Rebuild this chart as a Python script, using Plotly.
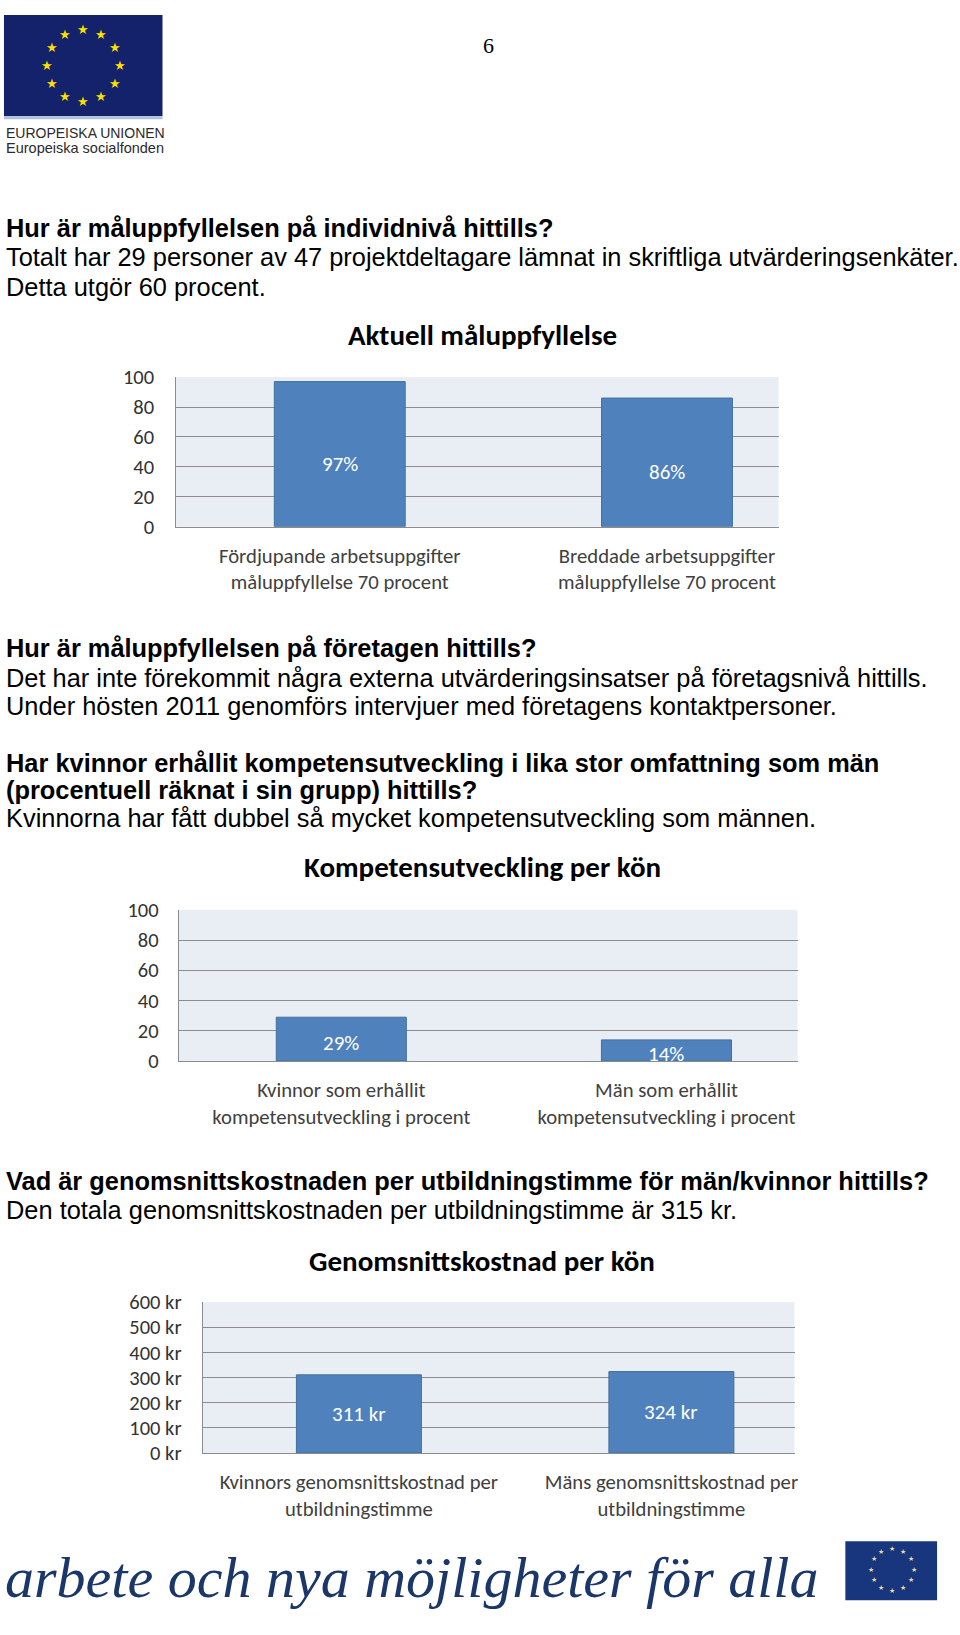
import math
import plotly.graph_objects as go

W, H = 960, 1635

# ---------------- data ----------------
cat1 = ["Fördjupande arbetsuppgifter<br>måluppfyllelse 70 procent",
        "Breddade arbetsuppgifter<br>måluppfyllelse 70 procent"]
val1 = [97, 86]
lab1 = ["97%", "86%"]

cat2 = ["Kvinnor som erhållit<br>kompetensutveckling i procent",
        "Män som erhållit<br>kompetensutveckling i procent"]
val2 = [29, 14]
lab2 = ["29%", "14%"]

cat3 = ["Kvinnors genomsnittskostnad per<br>utbildningstimme",
        "Mäns genomsnittskostnad per<br>utbildningstimme"]
val3 = [311, 324]
lab3 = ["311 kr", "324 kr"]

titles = ["Aktuell måluppfyllelse", "Kompetensutveckling per kön", "Genomsnittskostnad per kön"]

# ---------------- helpers ----------------
def fx(x):
    return x / W

def fy(y):
    return 1 - y / H

BAR = "#4F81BD"
BAR_LINE = "#41719C"
GRID = "#8C8C8C"
PLOT_BG = "#E9EDF4"
CAL = "Carlito, Lato, sans-serif"
ARIAL = "Liberation Sans, Arial, sans-serif"

fig = go.Figure()

charts = [
    # (cats, vals, labels, xaxis, yaxis, x-domain px, y-domain px, xrange end, ymax, dtick, suffix, label shift, ytick standoff)
    (cat1, val1, lab1, "x", "y", (176.7, 781), (370, 522), 1.341, 100, 20, "", -10, 17),
    (cat2, val2, lab2, "x2", "y2", (179.3, 800), (911.3, 1065), 1.403, 100, 20, "", -4, 15),
    (cat3, val3, lab3, "x3", "y3", (203.3, 797), (1310, 1463.3), 1.394, 600, 100, " kr", 0, 16),
]

annotations = []
for i, (cats, vals, labs, xa, ya, xd, yd, xr, ymax, dt, suf, shift, ystand) in enumerate(charts):
    fig.add_trace(go.Bar(
        x=cats, y=vals, xaxis=xa, yaxis=ya, width=0.4,
        marker=dict(color=BAR, line=dict(color=BAR_LINE, width=1)),
        hoverinfo="skip", showlegend=False,
    ))
    key = "" if i == 0 else str(i + 1)
    fig.update_layout(**{
        "xaxis" + key: dict(
            domain=[fx(xd[0]), fx(xd[1])], anchor=ya, type="category",
            range=[-0.5, xr], showgrid=False, showline=True, linecolor=GRID,
            linewidth=1, ticks="", ticklabelstandoff=10,
            tickfont=dict(family=CAL, size=20.7, color="#404040"), fixedrange=True,
        ),
        "yaxis" + key: dict(
            domain=[fy(yd[1]), fy(yd[0])], anchor=xa, range=[0, ymax], dtick=dt,
            showgrid=True, gridcolor=GRID, gridwidth=1, showline=True,
            linecolor=GRID, linewidth=1, zeroline=False, ticks="",
            ticksuffix=suf, ticklabelstandoff=ystand,
            tickfont=dict(family=CAL, size=20.5, color="#333333"), fixedrange=True,
        ),
    })
    for c, v, t in zip(cats, vals, labs):
        annotations.append(dict(
            x=c, y=v / 2, xref=xa, yref=ya, text=t, showarrow=False,
            yshift=shift, font=dict(family=CAL, size=21, color="white"),
        ))

# chart titles
for t, ypx in zip(titles, [327, 868, 1268]):
    annotations.append(dict(
        x=fx(484), y=fy(ypx), xref="paper", yref="paper", text=f"<b>{t}</b>",
        showarrow=False, xanchor="center", yanchor="middle",
        font=dict(family=CAL, size=29, color="black"),
    ))

# body text
body = [
    ("<b>Hur är måluppfyllelsen på individnivå hittills?</b>", 218),
    ("Totalt har 29 personer av 47 projektdeltagare lämnat in skriftliga utvärderingsenkäter.", 248),
    ("Detta utgör 60 procent.", 278),
    ("<b>Hur är måluppfyllelsen på företagen hittills?</b>", 645),
    ("Det har inte förekommit några externa utvärderingsinsatser på företagsnivå hittills.", 676),
    ("Under hösten 2011 genomförs intervjuer med företagens kontaktpersoner.", 704),
    ("<b>Har kvinnor erhållit kompetensutveckling i lika stor omfattning som män</b>", 762),
    ("<b>(procentuell räknat i sin grupp) hittills?</b>", 790),
    ("Kvinnorna har fått dubbel så mycket kompetensutveckling som männen.", 818),
    ("<b>Vad är genomsnittskostnaden per utbildningstimme för män/kvinnor hittills?</b>", 1187),
    ("Den totala genomsnittskostnaden per utbildningstimme är 315 kr.", 1216),
]
for t, ypx in body:
    annotations.append(dict(
        x=fx(4), y=fy(ypx), xref="paper", yref="paper", text=t, showarrow=False,
        xanchor="left", yanchor="middle",
        font=dict(family=ARIAL, size=25.4, color="black"),
    ))

# page number
annotations.append(dict(
    x=fx(490), y=fy(33), xref="paper", yref="paper", text="6", showarrow=False,
    xanchor="center", yanchor="middle",
    font=dict(family="Liberation Serif, Times New Roman, serif", size=22, color="black"),
))

# EU logo texts
annotations.append(dict(
    x=fx(4), y=fy(122), xref="paper", yref="paper", text="EUROPEISKA UNIONEN",
    showarrow=False, xanchor="left", yanchor="middle",
    font=dict(family=ARIAL, size=14, color="#2b2b2b"),
))
annotations.append(dict(
    x=fx(4), y=fy(137), xref="paper", yref="paper", text="Europeiska socialfonden",
    showarrow=False, xanchor="left", yanchor="middle",
    font=dict(family=ARIAL, size=14.5, color="#2b2b2b"),
))

# footer slogan
annotations.append(dict(
    x=fx(3), y=fy(1590), xref="paper", yref="paper",
    text="<i>arbete och nya möjligheter för alla</i>", showarrow=False,
    xanchor="left", yanchor="middle",
    font=dict(family="Liberation Serif, serif", size=58, color="#1B3668"),
))

# flags (decoration)
shapes = [
    dict(type="rect", xref="paper", yref="paper", x0=fx(4), x1=fx(163), y0=fy(105), y1=fy(2),
         fillcolor="#13226A", line=dict(width=0), layer="below"),
    dict(type="rect", xref="paper", yref="paper", x0=fx(4), x1=fx(163), y0=fy(108), y1=fy(105),
         fillcolor="#AFC3DD", line=dict(width=0), layer="below"),
    dict(type="rect", xref="paper", yref="paper", x0=fx(848), x1=fx(940), y0=fy(1613), y1=fy(1553),
         fillcolor="#17367E", line=dict(width=0), layer="below"),
]
for cx, cy, r, sz, col in [(83.5, 53, 36.5, 13, "#FFDE00"), (895, 1582, 21.5, 7, "#E8D9A0")]:
    for k in range(12):
        a = math.pi / 2 - k * math.pi / 6
        annotations.append(dict(
            x=fx(cx + r * math.cos(a)), y=fy(cy - r * math.sin(a)), xref="paper", yref="paper",
            text="★", showarrow=False, xanchor="center", yanchor="middle",
            font=dict(family="DejaVu Sans", size=sz, color=col),
        ))

fig.update_layout(
    width=W, height=H, margin=dict(l=0, r=0, t=0, b=0),
    paper_bgcolor="white", plot_bgcolor=PLOT_BG,
    annotations=annotations, shapes=shapes, showlegend=False, bargap=0.6,
)

fig.write_html(
    "out.html",
    config={"displayModeBar": False},
    post_script="document.body.style.margin='0';document.body.style.overflow='hidden';",
)
